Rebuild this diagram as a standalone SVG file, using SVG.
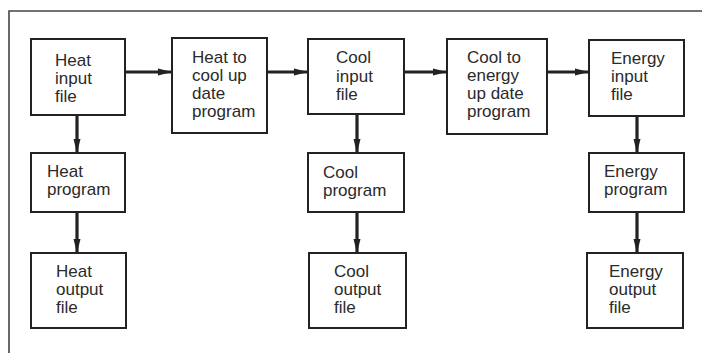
<svg xmlns="http://www.w3.org/2000/svg" width="702" height="353" viewBox="0 0 702 353">
<style>
.box{fill:#fff;stroke:#222;stroke-width:2}
.t{font-family:"Liberation Sans",Arial,sans-serif;font-size:17px;fill:#2a2a2a}
.c{stroke:#222;stroke-width:3.2;fill:none;marker-end:url(#ah)}
.frame{stroke:#444;stroke-width:1.6;fill:none}
</style>
<defs>
<marker id="ah" markerUnits="userSpaceOnUse" markerWidth="16" markerHeight="10" refX="14" refY="5" orient="auto">
<path d="M0,1.5 L14,5 L0,8.5 Z" fill="#222"/>
</marker>
</defs>
<rect width="702" height="353" fill="#fff"/>
<path class="frame" d="M702,11 H9 V353"/>
<g id="connectors">
<line class="c" x1="125" y1="72" x2="172" y2="72"/>
<line class="c" x1="267" y1="72" x2="308" y2="72"/>
<line class="c" x1="404" y1="72" x2="447" y2="72"/>
<line class="c" x1="547" y1="72" x2="589" y2="72"/>
<line class="c" x1="77" y1="115" x2="77" y2="153"/>
<line class="c" x1="77" y1="212" x2="77" y2="253"/>
<line class="c" x1="357" y1="114" x2="357" y2="153"/>
<line class="c" x1="357" y1="212" x2="357" y2="253"/>
<line class="c" x1="637" y1="116" x2="637" y2="153"/>
<line class="c" x1="637" y1="212" x2="637" y2="253"/>
</g>
<g id="heat-input"><rect class="box" x="31" y="39" width="94" height="76"/>
<text class="t" x="55" y="66">Heat</text><text class="t" x="55" y="84">input</text><text class="t" x="55" y="102">file</text></g>
<g id="heat-to-cool"><rect class="box" x="172" y="38" width="95" height="95"/>
<text class="t" x="192" y="63">Heat to</text><text class="t" x="192" y="81">cool up</text><text class="t" x="192" y="99">date</text><text class="t" x="192" y="117">program</text></g>
<g id="cool-input"><rect class="box" x="308" y="39" width="96" height="75"/>
<text class="t" x="336" y="63">Cool</text><text class="t" x="336" y="82">input</text><text class="t" x="336" y="100">file</text></g>
<g id="cool-to-energy"><rect class="box" x="447" y="39" width="100" height="95"/>
<text class="t" x="467" y="63">Cool to</text><text class="t" x="467" y="81">energy</text><text class="t" x="467" y="99">up date</text><text class="t" x="467" y="117">program</text></g>
<g id="energy-input"><rect class="box" x="589" y="40" width="95" height="76"/>
<text class="t" x="611" y="64">Energy</text><text class="t" x="611" y="82">input</text><text class="t" x="611" y="100">file</text></g>
<g id="heat-program"><rect class="box" x="31" y="153" width="94" height="59"/>
<text class="t" x="47" y="177">Heat</text><text class="t" x="47" y="195">program</text></g>
<g id="cool-program"><rect class="box" x="308" y="153" width="96" height="59"/>
<text class="t" x="323" y="178">Cool</text><text class="t" x="323" y="196">program</text></g>
<g id="energy-program"><rect class="box" x="589" y="153" width="95" height="59"/>
<text class="t" x="604" y="177">Energy</text><text class="t" x="604" y="195">program</text></g>
<g id="heat-output"><rect class="box" x="31" y="253" width="95" height="75"/>
<text class="t" x="56" y="277">Heat</text><text class="t" x="56" y="295">output</text><text class="t" x="56" y="313">file</text></g>
<g id="cool-output"><rect class="box" x="309" y="253" width="97" height="75"/>
<text class="t" x="334" y="277">Cool</text><text class="t" x="334" y="295">output</text><text class="t" x="334" y="313">file</text></g>
<g id="energy-output"><rect class="box" x="587" y="253" width="96" height="75"/>
<text class="t" x="609" y="277">Energy</text><text class="t" x="609" y="295">output</text><text class="t" x="609" y="313">file</text></g>
</svg>
